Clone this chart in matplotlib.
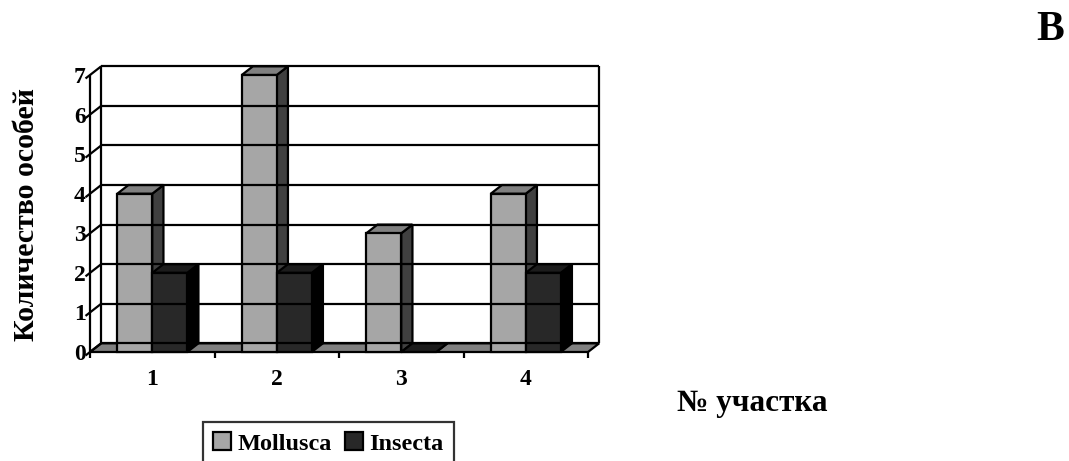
import matplotlib
matplotlib.use("Agg")
import matplotlib.pyplot as plt
from matplotlib.patches import Polygon, Rectangle

plt.rcParams['font.family'] = ['Liberation Serif', 'DejaVu Serif']
plt.rcParams['font.weight'] = 'bold'

# ---------- Data ---------- #
sites = [1, 2, 3, 4]
mollusca = [4, 7, 3, 4]
insecta = [2, 2, 0, 2]
series_names = ["Mollusca", "Insecta"]
y_ticks = list(range(8))

# ---------- Styles ---------- #
# (front, top, side) shades for each series
mollusca_shades = ("#a6a6a6", "#808080", "#404040")
insecta_shades = ("#282828", "#1c1c1c", "#000000")
floor_color = "#808080"
LW = 1.6

# oblique depth of the 3D box, in data units
DX = 0.09
DY = 0.22
BAR_W = 0.281

W, H = 1069, 461
fig = plt.figure(figsize=(W / 100, H / 100), dpi=100)
ax = fig.add_axes([90 / W, 1 - 352 / H, 498 / W, 277 / H])
ax.set_xlim(0.5, 4.5)
ax.set_ylim(0, 7)
ax.patch.set_visible(False)
for s in ax.spines.values():
    s.set_visible(False)

x0, x1 = 0.5, 4.5
ymax = y_ticks[-1]
line_kw = dict(color="black", lw=LW, clip_on=False, solid_capstyle="butt")

# back wall with gridlines
for v in y_ticks:
    ax.plot([x0 + DX, x1 + DX], [v + DY, v + DY], **line_kw)
    # gridline on the side wall plus tick stub
    ax.plot([x0 - 0.4 * DX, x0 + DX], [v - 0.4 * DY, v + DY], **line_kw)
ax.plot([x0 + DX, x0 + DX], [DY, ymax + DY], **line_kw)
ax.plot([x1 + DX, x1 + DX], [DY, ymax + DY], **line_kw)
ax.plot([x0, x0], [0, ymax], **line_kw)

# floor
floor = Polygon([(x0, 0), (x1, 0), (x1 + DX, DY), (x0 + DX, DY)],
                closed=True, facecolor=floor_color, edgecolor="black",
                lw=LW, clip_on=False, joinstyle="miter")
ax.add_patch(floor)

# category ticks along the base
for b in [0.5, 1.5, 2.5, 3.5, 4.5]:
    ax.plot([b, b], [0, -0.16], **line_kw)


def draw_bar(x, h, shades):
    front, top, side = shades
    kw = dict(closed=True, edgecolor="black", lw=LW, clip_on=False,
              joinstyle="miter")
    ax.add_patch(Polygon([(x + BAR_W, 0), (x + BAR_W + DX, DY),
                          (x + BAR_W + DX, h + DY), (x + BAR_W, h)],
                         facecolor=side, **kw))
    ax.add_patch(Polygon([(x, h), (x + BAR_W, h),
                          (x + BAR_W + DX, h + DY), (x + DX, h + DY)],
                         facecolor=top, **kw))
    if h > 0:
        ax.add_patch(Rectangle((x, 0), BAR_W, h, facecolor=front,
                               edgecolor="black", lw=LW, clip_on=False,
                               joinstyle="miter"))


for s, m, i in zip(sites, mollusca, insecta):
    draw_bar(s - BAR_W, m, mollusca_shades)
    draw_bar(s, i, insecta_shades)

ax.set_xticks(sites)
ax.set_xticklabels([str(s) for s in sites], fontsize=17, fontweight="bold")
ax.set_yticks(y_ticks)
ax.set_yticklabels([str(v) for v in y_ticks], fontsize=17, fontweight="bold")
ax.tick_params(axis="x", length=0, pad=12)
ax.tick_params(axis="y", length=0, pad=3)

fig.text(27 / W, 1 - 215 / H, "Количество особей", rotation=90,
         ha="center", va="center", fontsize=21.5, fontweight="bold")
fig.text(752 / W, 1 - 403 / H, "№ участка", ha="center", va="center",
         fontsize=22.5, fontweight="bold")
fig.text(1050 / W, 1 - 30 / H, "В", ha="center", va="center",
         fontsize=30, fontweight="bold")

handles = [Rectangle((0, 0), 1, 1, facecolor=mollusca_shades[0],
                     edgecolor="black", lw=LW),
           Rectangle((0, 0), 1, 1, facecolor=insecta_shades[0],
                     edgecolor="black", lw=LW)]
leg = fig.legend(handles, series_names, loc="upper left",
                 bbox_to_anchor=(203 / W, 1 - 422 / H), ncol=2,
                 prop=dict(size=17.5, weight="bold"), frameon=True,
                 fancybox=False, handlelength=0.75, handleheight=0.75,
                 handletextpad=0.25, columnspacing=0.55, borderpad=0.42,
                 borderaxespad=0)
leg.get_frame().set_edgecolor("black")
leg.get_frame().set_linewidth(LW)

fig.savefig("out.png", dpi=100)
